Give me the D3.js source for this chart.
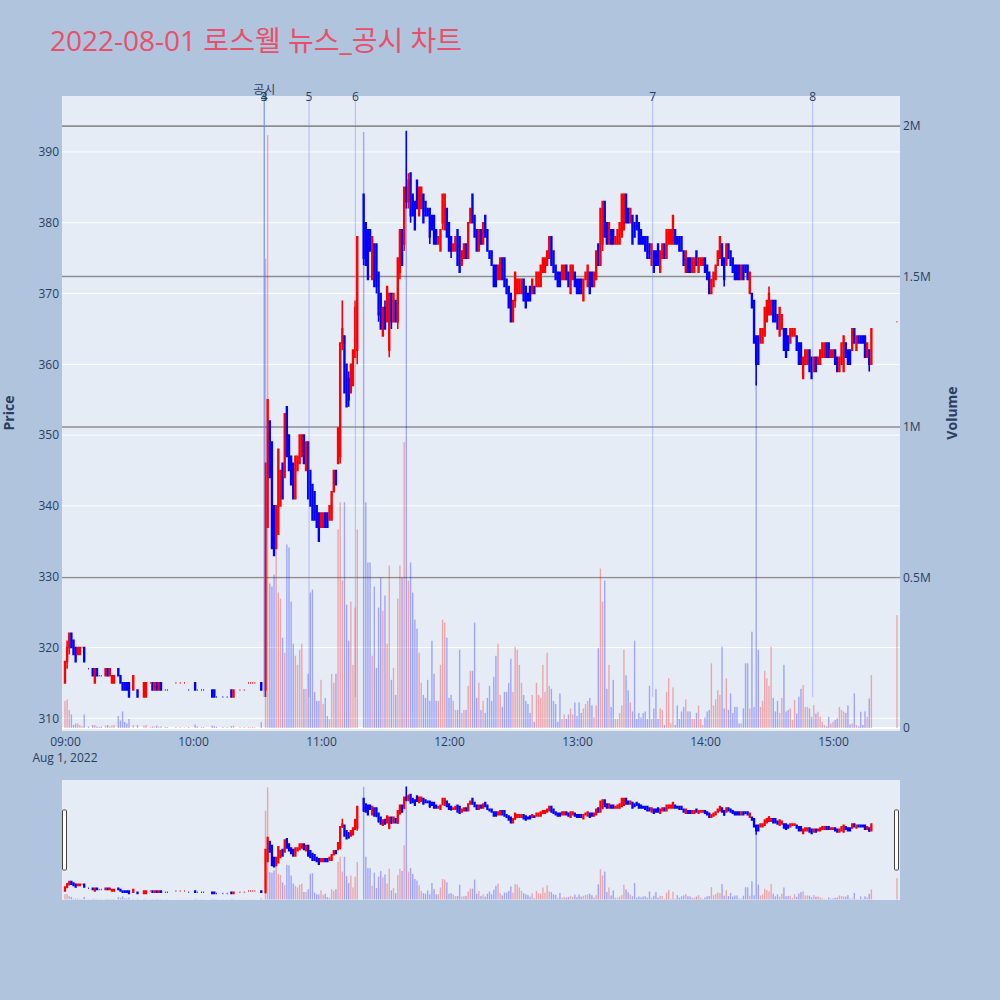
<!DOCTYPE html>
<html>
<head>
<meta charset="utf-8">
<script src="https://cdn.jsdelivr.net/npm/d3@7"></script>
<style>
  body { margin: 0; background: #b0c4de; }
  svg text { font-family: "Open Sans", "Noto Sans CJK KR", sans-serif; }
</style>
</head>
<body>
<div id="chart"></div>
<script>
// 1 minute candles, minute = minutes after 09:00
const minutes = [
  0,1,2,3,4,5,6,7,8,9, 11,13,14,15,16,17,19,20,21,22, 23,25,26,27,28,29,30,32,34,37,
  38,40,41,42,43,44,45,47,48,52, 54,56,58,61,62,64,65,69,70,71, 74,76,78,79,82,84,86,87,88,89, 92,
  94,95,96,97,98,99,100,101,102,103, 104,105,106,107,108,109,110,111,112,113,
  114,115,116,117,118,119,120,121,122,123, 124,125,126,127,128,129,130,131,132,133,
  134,135,136,137,140,141,142,143,144,145, 146,147,148,149,150,151,152,153,154,155,
  156,157,158,159,160,161,162,163,164,165, 166,167,168,169,170,171,172,173,174,175,
  176,177,178,179,180,181,182,183,184,185, 186,187,188,189,190,191,192,193,194,195,
  196,197,198,199,200,201,202,203,204,205, 206,207,208,209,210,211,212,213,214,215,
  216,217,218,219,220,221,222,223,224,225, 226,227,228,229,230,231,232,233,234,235,
  236,237,238,239,240,241,242,243,244,245, 246,247,248,249,250,251,252,253,254,255,
  256,257,258,259,260,261,262,263,264,265, 266,267,268,269,270,271,272,273,274,275,
  276,277,278,279,280,281,282,283,284,285, 286,287,288,289,290,291,292,293,294,295,
  296,297,298,299,300,301,302,303,304,305, 306,307,308,309,310,311,312,313,314,315,
  316,317,318,319,320,321,322,323,324,325, 326,327,328,329,330,331,332,333,334,335,
  336,337,338,339,340,341,342,343,344,345, 346,347,348,349,350,351,352,353,354,355,
  356,357,358,359,360,361,362,363,364,365, 366,367,368,369,370,371,372,373,374,375,
  376,377,378,390
]
const opens = [
  315,318,320,322,321,320,319,319,320,320, 317,317,315,317,316,316,316,317,316,315, 315,317,316,315,315,315,315,314,314,313,
  313,315,315,314,315,314,315,314,314,315, 315,315,314,315,314,314,314,314,314,313, 313,313,314,313,314,314,315,315,315,315, 315,
  314,337,352,349,340,334,336,340,346,344, 354,350,347,346,341,345,346,347,350,345,
  349,345,343,342,340,339,337,337,339,339, 338,338,342,345,346,347,363,364,360,358,
  356,357,361,362,384,380,379,379,372,377, 377,373,370,364,368,366,362,370,366,369,
  366,373,379,377,385,383,387,384,383,386, 381,382,384,383,382,382,381,381,379,377,
  376,380,379,382,380,378,376,376,379,378, 374,375,377,375,380,384,381,379,376,379,
  377,381,379,376,376,374,374,372,372,375, 375,372,371,370,366,369,370,370,370,372,
  371,370,371,370,371,371,371,371,373,373, 374,375,378,376,374,373,373,372,372,374,
  373,370,372,373,372,372,372,369,372,371, 373,373,371,372,377,374,377,383,380,377,
  379,379,377,377,377,378,379,384,382,380, 381,380,381,380,379,378,378,378,377,374,
  376,376,377,373,375,377,375,377,377,377, 379,378,378,378,376,373,375,375,373,373,
  376,373,374,374,375,374,373,370,371,372, 374,375,377,375,374,377,376,375,374,374,
  374,372,374,374,374,370,370,369,364,364, 363,363,364,366,367,367,369,369,367,364,
  365,365,365,364,363,364,364,364,363,363, 358,360,360,362,361,359,361,360,360,361,
  361,363,363,361,361,362,361,359,360,359, 363,362,362,362,365,362,364,364,364,364,
  361,362,360,366
]
const highs = [
  318,321,322,322,321,320,320,320,320,320, 317,317,317,317,316,316,317,317,317,316, 316,317,316,315,315,315,315,316,314,315,
  315,315,315,315,315,315,315,314,314,315, 315,315,314,315,314,314,314,314,314,313, 313,313,314,314,314,314,315,315,315,315, 315,
  346,355,352,349,340,340,348,345,346,353, 354,350,347,346,347,347,350,350,350,349,
  349,345,343,342,340,339,339,339,339,339, 340,342,345,345,351,363,369,364,360,359,
  360,362,369,378,384,380,379,379,378,377, 377,373,370,368,369,371,370,370,370,369,
  375,379,379,385,393,387,387,384,383,386, 385,385,384,383,382,382,381,381,379,378,
  379,384,384,382,380,378,377,378,379,378, 376,377,377,380,382,384,381,379,379,379,
  380,381,379,376,376,374,374,374,375,375, 375,372,371,370,369,373,372,372,372,372,
  371,370,371,372,371,373,373,374,375,375, 376,378,378,376,374,373,373,374,374,374,
  373,374,374,373,372,372,372,372,373,374, 373,373,373,376,377,382,383,383,380,380,
  379,379,378,379,380,384,384,384,382,382, 381,380,381,380,379,378,378,378,377,377,
  376,376,377,376,377,377,379,379,379,381, 379,378,378,378,376,376,375,375,375,375,
  376,375,375,375,375,374,373,372,373,374, 376,378,377,375,377,377,376,375,374,374,
  374,374,374,374,374,373,370,369,364,364, 365,365,368,369,371,369,369,369,367,368,
  367,365,365,364,365,365,365,364,363,363, 361,362,362,362,361,361,361,361,362,363,
  363,363,363,362,362,362,361,361,363,364, 363,362,362,365,365,364,364,364,364,364,
  363,362,365,366
]
const lows = [
  315,317,319,320,319,318,319,319,320,318, 317,316,315,316,316,316,316,316,316,315, 315,316,315,314,314,314,313,314,313,313,
  313,315,314,314,314,314,314,314,314,315, 315,315,314,314,314,314,314,313,313,313, 313,313,313,313,314,314,315,315,315,315, 314,
  313,337,344,334,333,334,336,340,341,344, 347,345,343,341,341,345,346,347,346,345,
  341,340,338,338,337,335,337,337,337,337, 338,338,342,343,346,346,362,356,354,354,
  356,357,361,360,374,374,372,376,372,371, 370,366,365,364,365,366,361,365,366,366,
  365,372,374,376,382,382,380,381,379,382, 381,382,380,381,381,377,379,377,377,377,
  376,379,379,378,376,375,376,376,374,373, 374,375,375,375,380,380,378,376,376,377,
  377,378,376,375,374,371,371,372,372,372, 371,370,368,366,366,368,370,370,370,369,
  368,369,369,370,370,371,371,371,373,373, 374,375,374,373,372,371,371,372,372,372,
  371,370,372,371,370,370,370,369,372,371, 370,371,371,372,374,374,376,378,377,377,
  377,377,377,377,377,378,379,380,380,380, 377,378,379,377,377,377,376,375,375,374,
  373,374,374,373,375,375,375,377,377,377, 377,377,376,376,374,373,373,373,373,373,
  374,373,374,374,373,372,370,370,371,372, 374,375,374,371,374,375,374,373,372,372,
  372,372,372,373,372,370,368,363,357,360, 363,363,364,366,367,367,366,366,365,364,
  365,362,361,362,363,364,364,362,360,360, 358,360,360,359,358,359,359,360,360,361,
  361,361,361,361,361,360,359,359,360,359, 361,360,360,362,363,362,363,363,363,361,
  361,359,360,366
]
const closes = [
  318,320,322,320,319,318,320,320,320,318, 317,316,317,316,316,316,317,316,317,316, 316,316,315,314,314,314,313,316,313,315,
  315,315,314,315,314,315,314,314,314,315, 315,315,314,314,314,314,314,313,313,313, 313,313,313,314,314,314,315,315,315,315, 314,
  346,355,344,334,333,340,348,345,341,353, 347,345,343,341,347,347,350,350,346,349,
  341,340,338,338,337,335,339,339,337,337, 340,342,345,343,351,363,365,356,354,355,
  360,362,368,378,375,374,372,376,378,371, 371,367,365,368,365,371,370,366,370,366,
  375,379,374,385,383,386,381,381,379,382, 385,385,380,381,381,378,379,377,377,378,
  379,384,384,378,376,376,377,378,374,373, 376,377,375,380,382,380,378,376,379,377,
  380,378,376,375,374,371,371,374,375,372, 371,370,368,366,369,373,372,372,372,369,
  368,369,369,372,370,373,373,374,375,375, 376,378,374,373,372,371,371,374,374,372,
  371,374,374,371,370,370,370,372,373,374, 370,371,373,376,374,382,383,378,377,380,
  377,377,378,379,380,384,384,380,380,382, 377,378,379,377,377,377,376,375,375,377,
  373,374,374,376,377,375,379,379,379,381, 377,377,376,376,374,376,373,373,375,375,
  374,375,375,375,373,372,370,372,373,374, 376,378,374,372,377,375,374,373,372,372,
  372,374,372,373,372,373,368,363,360,360, 365,365,368,369,370,369,366,366,365,368,
  367,362,361,362,365,365,365,362,360,360, 361,362,362,359,358,361,359,361,362,363,
  363,361,361,362,362,360,359,361,363,364, 361,360,360,365,363,364,363,363,363,361,
  363,360,365,366
]
// traded volume, thousands of shares
const volumesK = [
  90,95,60,45,10,15,15,10,5,45, 5,10,10,5,3,5,8,10,5,8, 10,40,25,55,20,15,30,10,10,8,
  10,3,5,5,8,4,5,3,3,3, 3,2,3,12,5,3,3,8,6,4, 3,3,6,8,3,3,3,2,3,2, 20,
  1560,1970,480,470,510,600,450,430,300,250, 610,600,420,280,240,210,260,280,130,130,
  180,450,460,120,90,90,160,80,100,40, 30,180,150,180,660,750,490,750,410,290,
  420,210,400,660,1980,750,550,550,240,470, 200,400,500,390,440,280,540,160,200,110,
  430,540,500,950,1980,490,550,450,360,330, 250,150,110,100,160,90,290,180,90,90,
  210,360,350,300,100,110,90,60,60,260, 50,60,60,140,190,190,350,100,150,60,
  90,50,100,140,90,170,240,280,110,70, 120,120,150,230,120,270,260,210,150,110,
  90,80,50,110,20,150,110,100,210,120, 250,140,130,90,80,20,115,30,45,30,
  45,65,45,85,40,85,50,65,80,90, 100,75,35,75,265,530,420,490,130,210,
  70,160,30,30,50,75,260,175,125,85, 55,290,30,50,35,50,55,30,140,30,
  65,130,30,65,60,10,120,165,15,135, 10,75,30,55,70,95,55,55,30,30,
  50,75,30,10,35,55,60,215,75,95, 125,110,270,65,165,60,115,50,70,70,
  15,15,65,215,215,65,320,70,1150,260, 70,90,190,165,140,270,100,55,90,50,
  100,210,55,60,65,27,93,48,104,130, 143,70,70,65,37,76,48,54,37,21,
  10,5,37,15,21,27,32,70,60,54, 50,75,12,15,115,10,5,54,10,55,
  37,98,176,375
]

// news / disclosure markers
const newsTimes = ["10:33:24", "10:33:24", "10:33:24", "10:54:24", "11:16:06", "13:35:30", "14:50:30"]
const newsLabels = ["공시", "3", "4", "5", "6", "7", "8"]

const priceTicks = [310, 320, 330, 340, 350, 360, 370, 380, 390]
const volumeTicks = [0, 500, 1000, 1500, 2000]
const volumeTickLabels = ["0", "0.5M", "1M", "1.5M", "2M"]
const titleText = "2022-08-01 로스웰 뉴스_공시 차트"
const dateLabel = "Aug 1, 2022"

const WIDTH = 1000, HEIGHT = 1000
const PLOT = {left: 62, right: 900, top: 96, bottom: 731}
const SLIDER = {top: 780, bottom: 900}
const RED = "#ff0000", BLUE = "#0000ff"
const TXT = "#2a3f5f"

let parseT = d3.timeParse("%Y-%m-%d %H:%M:%S")
let day0 = parseT("2022-08-01 09:00:00")

let candles = minutes.map(function(m, i) {
    return {t: new Date(day0.getTime() + m * 60000), o: opens[i], h: highs[i], l: lows[i], c: closes[i], v: volumesK[i]}
})
// same up/down rule as plotly: flat candles follow the previous close
let up = true, prevClose = null
candles.forEach(function(d) {
    if (d.c !== d.o) up = d.c > d.o
    else if (prevClose !== null && d.c !== prevClose) up = d.c > prevClose
    d.up = up
    prevClose = d.c
})

let x = d3.scaleTime()
    .domain([parseT("2022-08-01 08:58:36"), parseT("2022-08-01 15:31:25")])
    .range([PLOT.left, PLOT.right])
let yPrice = d3.scaleLinear().domain([308.2, 397.9]).range([PLOT.bottom, PLOT.top])
let yVol = d3.scaleLinear().domain([-10, 2100]).range([PLOT.bottom, PLOT.top])
let sPrice = d3.scaleLinear().domain([308.2, 397.9]).range([SLIDER.bottom, SLIDER.top])
let sVol = d3.scaleLinear().domain([-10, 2100]).range([SLIDER.bottom, SLIDER.top])

let svg = d3.select("#chart")
    .append("svg")
    .attr("width", WIDTH)
    .attr("height", HEIGHT)

svg.append("rect")
    .attr("width", WIDTH).attr("height", HEIGHT)
    .attr("fill", "#b0c4de")

let defs = svg.append("defs")
defs.append("clipPath").attr("id", "plotclip")
    .append("rect")
    .attr("x", PLOT.left).attr("y", PLOT.top)
    .attr("width", PLOT.right - PLOT.left).attr("height", PLOT.bottom - PLOT.top)
defs.append("clipPath").attr("id", "sliderclip")
    .append("rect")
    .attr("x", PLOT.left).attr("y", SLIDER.top)
    .attr("width", PLOT.right - PLOT.left).attr("height", SLIDER.bottom - SLIDER.top)

// plot background + grids
svg.append("rect")
    .attr("x", PLOT.left).attr("y", PLOT.top)
    .attr("width", PLOT.right - PLOT.left).attr("height", PLOT.bottom - PLOT.top)
    .attr("fill", "#e5ecf6")

svg.append("g")
    .selectAll("line")
    .data(priceTicks)
    .enter()
    .append("line")
    .attr("x1", PLOT.left).attr("x2", PLOT.right)
    .attr("y1", d => yPrice(d)).attr("y2", d => yPrice(d))
    .attr("stroke", "#ffffff")
    .attr("stroke-width", 1)

svg.append("g")
    .selectAll("line")
    .data(volumeTicks.filter(d => d > 0))
    .enter()
    .append("line")
    .attr("x1", PLOT.left).attr("x2", PLOT.right)
    .attr("y1", d => yVol(d)).attr("y2", d => yVol(d))
    .attr("stroke", "#8e8e8e")
    .attr("stroke-width", 1.6)

svg.append("line")
    .attr("x1", PLOT.left).attr("x2", PLOT.right)
    .attr("y1", yVol(0)).attr("y2", yVol(0))
    .attr("stroke", "#ffffff")
    .attr("stroke-width", 2)

function candlePath(d, yS, w) {
    let cx = x(d.t)
    let yo = yS(d.o), yc = yS(d.c)
    let top = Math.min(yo, yc), bot = Math.max(yo, yc)
    return "M" + (cx - w) + "," + top + "H" + (cx + w) + "V" + bot + "H" + (cx - w) + "Z" +
        "M" + cx + "," + yS(d.h) + "V" + top + "M" + cx + "," + bot + "V" + yS(d.l)
}

function drawCandles(g, yS, sw) {
    g.selectAll("path.candle")
        .data(candles)
        .enter()
        .append("path")
        .attr("class", "candle")
        .attr("d", d => candlePath(d, yS, 0.4))
        .attr("fill", d => d.up ? RED : BLUE)
        .attr("stroke", d => d.up ? RED : BLUE)
        .attr("stroke-width", sw)
}

function drawVolume(g, yS) {
    g.selectAll("rect.vol")
        .data(candles)
        .enter()
        .append("rect")
        .attr("class", "vol")
        .attr("x", d => x(d.t) - 0.7)
        .attr("width", 1.4)
        .attr("y", d => yS(d.v))
        .attr("height", d => yS(0) - yS(d.v))
        .attr("fill", d => d.up ? RED : BLUE)
        .attr("opacity", 0.3)
}

let main = svg.append("g").attr("clip-path", "url(#plotclip)")
drawCandles(main, yPrice, 1.6)
drawVolume(main, yVol)

// news lines
let news = newsTimes.map(function(s, i) {
    return {t: parseT("2022-08-01 " + s), label: newsLabels[i]}
})
main.selectAll("line.news")
    .data(news)
    .enter()
    .append("line")
    .attr("x1", d => x(d.t)).attr("x2", d => x(d.t))
    .attr("y1", PLOT.top).attr("y2", yPrice(313))
    .attr("stroke", "#6f7ff0")
    .attr("stroke-opacity", 0.45)
    .attr("stroke-width", 1)

svg.append("g")
    .selectAll("text")
    .data(news)
    .enter()
    .append("text")
    .attr("x", d => x(d.t))
    .attr("y", d => d.label === "공시" ? 94 : 101)
    .attr("text-anchor", "middle")
    .style("font-size", "12px")
    .style("fill", TXT)
    .text(d => d.label)

// axes
let axL = svg.append("g")
    .attr("transform", `translate(${PLOT.left},0)`)
    .call(d3.axisLeft(yPrice).tickValues(priceTicks).tickSize(0).tickPadding(3))
let axR = svg.append("g")
    .attr("transform", `translate(${PLOT.right},0)`)
    .call(d3.axisRight(yVol).tickValues(volumeTicks).tickFormat((d, i) => volumeTickLabels[i]).tickSize(0).tickPadding(3))
let axB = svg.append("g")
    .attr("transform", `translate(0,${PLOT.bottom})`)
    .call(d3.axisBottom(x).ticks(d3.timeHour.every(1)).tickFormat(d3.timeFormat("%H:%M")).tickSize(0).tickPadding(6))

;[axL, axR, axB].forEach(function(a) {
    a.select(".domain").remove()
    a.selectAll("text")
        .style("font-size", "12px")
        .style("font-family", '"Open Sans", sans-serif')
        .style("fill", TXT)
})

svg.append("text")
    .attr("x", x(day0))
    .attr("y", 762)
    .attr("text-anchor", "middle")
    .style("font-size", "12px")
    .style("fill", TXT)
    .text(dateLabel)

svg.append("text")
    .attr("transform", "translate(14,413) rotate(-90)")
    .attr("text-anchor", "middle")
    .style("font-size", "14px")
    .style("font-weight", "bold")
    .style("fill", TXT)
    .text("Price")

svg.append("text")
    .attr("transform", "translate(957,413) rotate(-90)")
    .attr("text-anchor", "middle")
    .style("font-size", "14px")
    .style("font-weight", "bold")
    .style("fill", TXT)
    .text("Volume")

// range slider
svg.append("rect")
    .attr("x", PLOT.left).attr("y", SLIDER.top)
    .attr("width", PLOT.right - PLOT.left).attr("height", SLIDER.bottom - SLIDER.top)
    .attr("fill", "#e5ecf6")

let slider = svg.append("g").attr("clip-path", "url(#sliderclip)")
drawCandles(slider, sPrice, 1.5)
drawVolume(slider, sVol)

let midS = (SLIDER.top + SLIDER.bottom) / 2
svg.selectAll("rect.grab")
    .data([PLOT.left + 0.5, PLOT.right - 5.5])
    .enter()
    .append("rect")
    .attr("class", "grab")
    .attr("x", d => d)
    .attr("y", midS - 30)
    .attr("width", 4)
    .attr("height", 60)
    .attr("rx", 1)
    .attr("fill", "#ffffff")
    .attr("stroke", "#444444")
    .attr("stroke-width", 1)

let title = svg.append("text")
    .attr("x", 50)
    .attr("y", 51)
    .style("font-size", "28px")
    .style("fill", "#e8506a")
    .text(titleText)
</script>
</body>
</html>
